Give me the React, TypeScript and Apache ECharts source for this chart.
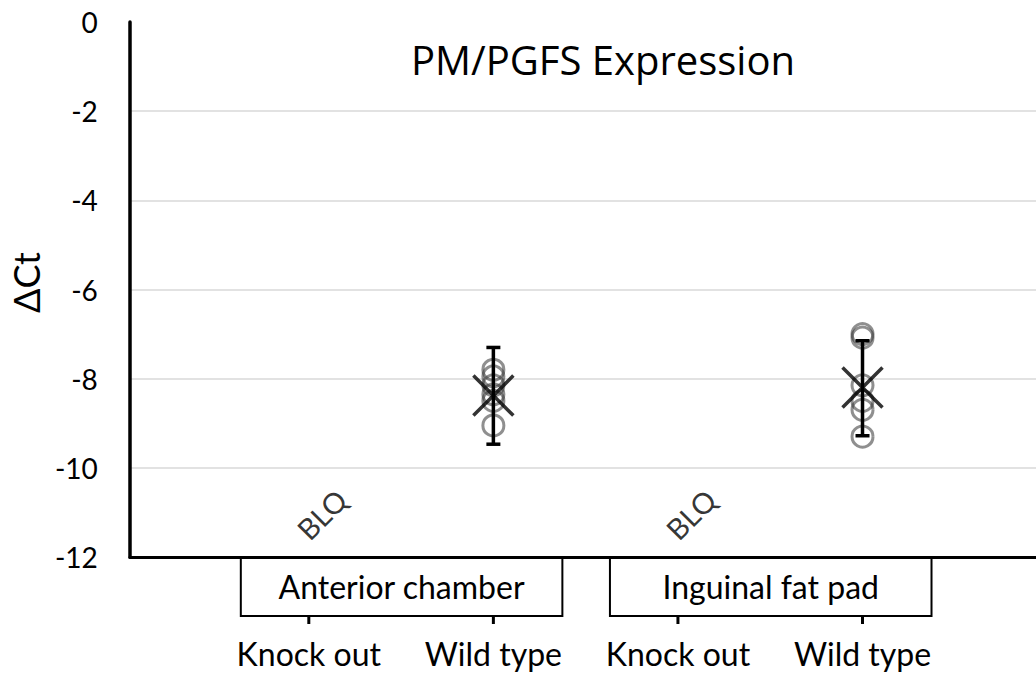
import React, { useEffect, useRef } from "react";
import * as echarts from "echarts";

const categories = ["Knock out", "Wild type", "Knock out", "Wild type"];
const categoryPositions = [1, 2, 3, 4];
const groups = ["Anterior chamber", "Inguinal fat pad"];
const groupRanges = [[1, 2], [3, 4]];
const yTicks = [0, -2, -4, -6, -8, -10, -12];

const acWildType = [-7.8, -7.95, -8.15, -8.35, -8.5, -9.05];
const ifpWildType = [-7.0, -7.08, -8.15, -8.5, -8.7, -9.3];
const means = [[2, -8.38], [4, -8.2]];
const errorBars = [[2, -7.3, -9.47], [4, -7.15, -9.28]];
const blqPositions = [[1, -11.2], [3, -11.2]];

const FONT = "Lato, 'Open Sans', sans-serif";

export default function App() {
  const ref = useRef<HTMLDivElement>(null);
  useEffect(() => {
    const chart = echarts.init(ref.current!, null, { renderer: "svg" });
    const pointData = [
      ...acWildType.map((v) => [2, v]),
      ...ifpWildType.map((v) => [4, v]),
    ];
    const splitColors = yTicks
      .slice()
      .reverse()
      .map((t) => (t === 0 || t === -12 ? "rgba(0,0,0,0)" : "#d9d9d9"));
    chart.setOption({
      animation: false,
      backgroundColor: "#fff",
      title: {
        text: "PM/PGFS Expression",
        left: 598,
        top: 34,
        textAlign: "center",
        textStyle: { fontFamily: "'Open Sans', sans-serif", fontSize: 40, fontWeight: "normal", color: "#000" },
      },
      grid: { left: 127, right: 0, top: 22, bottom: 116, containLabel: false },
      xAxis: {
        type: "value",
        min: 0.03,
        max: 4.94,
        axisLine: { show: true, onZero: false, lineStyle: { color: "#000", width: 3 } },
        axisTick: { show: false },
        splitLine: { show: false },
        axisLabel: {
          customValues: categoryPositions,
          formatter: (v: number) => categories[Math.round(v) - 1] ?? "",
          margin: 80,
          fontSize: 32,
          fontFamily: FONT,
          color: "#000",
        },
      },
      yAxis: {
        type: "value",
        min: -12,
        max: 0,
        interval: 2,
        name: "ΔCt",
        nameLocation: "middle",
        nameRotate: 90,
        nameGap: 74,
        nameTextStyle: { fontSize: 36, fontFamily: FONT, color: "#000", padding: [0, 0, 0, 14] },
        axisLine: { show: true, onZero: false, lineStyle: { color: "#000", width: 3.5 } },
        axisTick: { show: false },
        axisLabel: { fontSize: 28, fontFamily: FONT, color: "#000", margin: 32 },
        splitLine: { show: true, lineStyle: { color: splitColors, width: 1.5 } },
      },
      series: [
        {
          type: "scatter",
          data: pointData,
          symbol: "circle",
          symbolSize: 21,
          itemStyle: { color: "rgba(0,0,0,0)", borderColor: "rgba(55,55,55,0.7)", borderWidth: 3 },
          z: 2,
        },
        {
          type: "custom",
          data: errorBars,
          renderItem: (params: any, api: any) => {
            const x = api.value(0);
            const top = api.coord([x, api.value(1)]);
            const bot = api.coord([x, api.value(2)]);
            const hw = 7;
            const style = { stroke: "#000", lineWidth: 3.5 };
            return {
              type: "group",
              children: [
                { type: "line", shape: { x1: top[0], y1: top[1], x2: bot[0], y2: bot[1] }, style },
                { type: "line", shape: { x1: top[0] - hw, y1: top[1], x2: top[0] + hw, y2: top[1] }, style },
                { type: "line", shape: { x1: bot[0] - hw, y1: bot[1], x2: bot[0] + hw, y2: bot[1] }, style },
              ],
            };
          },
          z: 3,
        },
        {
          type: "scatter",
          data: means,
          symbol: "path://M0,0L10,10M10,0L0,10",
          symbolSize: 40,
          itemStyle: { color: "rgba(0,0,0,0)", borderColor: "#000", borderWidth: 3.5 },
          z: 4,
        },
        {
          type: "scatter",
          data: blqPositions,
          symbolSize: 0,
          silent: true,
          label: {
            show: true,
            formatter: "BLQ",
            rotate: 45,
            position: "inside",
            offset: [14, 4],
            fontSize: 29,
            fontFamily: FONT,
            color: "#000",
          },
        },
        {
          type: "custom",
          data: groupRanges.map((r, i) => [r[0], r[1], i]),
          clip: false,
          renderItem: (params: any, api: any) => {
            const a = api.coord([api.value(0), -12]);
            const b = api.coord([api.value(1), -12]);
            const name = groups[api.value(2)];
            const left = a[0] - 68;
            const right = b[0] + 69;
            const top = a[1];
            const bottom = top + 59;
            const style = { stroke: "#000", lineWidth: 2, fill: "none" };
            return {
              type: "group",
              children: [
                { type: "polyline", shape: { points: [[left, top], [left, bottom], [right, bottom], [right, top]] }, style },
                { type: "line", shape: { x1: a[0], y1: bottom, x2: a[0], y2: bottom + 8 }, style: { stroke: "#000", lineWidth: 3 } },
                { type: "line", shape: { x1: b[0], y1: bottom, x2: b[0], y2: bottom + 8 }, style: { stroke: "#000", lineWidth: 3 } },
                {
                  type: "text",
                  style: {
                    text: name,
                    x: (left + right) / 2,
                    y: (top + bottom) / 2,
                    align: "center",
                    verticalAlign: "middle",
                    fontSize: 32,
                    fontFamily: FONT,
                    fill: "#000",
                  },
                },
              ],
            };
          },
          z: 5,
        },
      ],
    });
    return () => chart.dispose();
  }, []);
  return (
    <div
      ref={ref}
      style={{ position: "fixed", left: 0, top: 0, width: 1036, height: 673 }}
    />
  );
}
